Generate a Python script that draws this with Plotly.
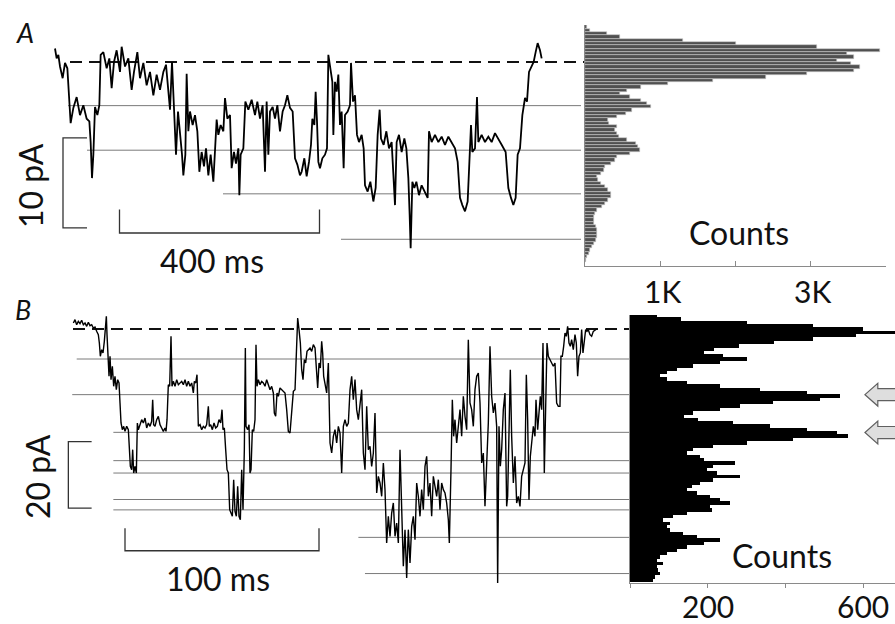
import plotly.graph_objects as go

# ---------------- Panel A : single-channel trace (time ms, current pA) ----------------
A_time_ms = [0, 3.3, 6.7, 10, 15.3, 20, 24.7, 28.7, 31.3, 36.7, 43.3, 50, 56.7, 63.3, 68.7, 71.3, 74, 76.7, 80, 84.7,
             88.7, 91.3, 96.7, 103.3, 108.7, 113.3, 118, 123.3, 130, 133.3, 140, 146.7, 153.3, 158, 164.7, 170, 176.7,
             183.3, 190, 196.7, 203.3, 210, 216.7, 222, 226.7, 230, 234, 238, 242, 246, 250, 254, 256.7, 260.7, 263.3,
             266.7, 270, 275.3, 280, 284.7, 288.7, 293.3, 298, 302, 306.7, 311.3, 316.7, 321.3, 323.3, 326.7, 331.3,
             336.7, 340, 344.7, 350, 353.3, 358, 362, 366.7, 368.7, 371.3, 376.7, 380.7, 386.7, 393.3, 400, 404.7, 410,
             415.3, 420, 423.3, 426.7, 430, 435.3, 440, 444.7, 450, 455.3, 460, 464.7, 470, 475.3, 480, 484.7, 490,
             493.3, 498.7, 503.3, 508, 512, 514.7, 518.7, 521.3, 524, 526.7, 530, 534.7, 540, 544, 546.7, 550, 554.7,
             556.7, 560, 563.3, 566.7, 570, 573.3, 577.3, 580, 585.3, 590, 592, 596, 600, 604, 608, 613.3, 617.3, 620,
             625.3, 630.7, 636.7, 641.3, 645.3, 649.3, 652, 657.3, 662.7, 668, 673.3, 677.3, 680, 683.3, 688, 693.3,
             698.7, 702.7, 706.7, 709.3, 711.3, 714.7, 718.7, 722.7, 728, 733.3, 740, 745.3, 748, 753.3, 760, 766.7,
             773.3, 780, 786.7, 793.3, 800, 805.3, 810, 814.7, 820, 825.3, 830, 832, 834.7, 840, 844, 846.7, 853.3, 860,
             866.7, 873.3, 880, 886.7, 893.3, 901.3, 906.7, 912, 916.7, 921.3, 925.3, 930, 934.7, 940, 944, 948, 953.3,
             957.3, 961.3, 965.3, 970, 973.3]
A_current_pA = [1.5, 0.4, 0.8, -0.5, -1.8, -0.1, -0.7, -4.2, -6.8, -5.1, -3.9, -5.9, -4.8, -6.3, -6.6, -8.9, -12.9, -10.3,
                -5.0, -5.9, -4.8, 0.8, 1.1, -0.7, 0.4, -2.9, 0.0, 1.3, -1.1, 1.7, -0.5, 0.4, -3.1, -1.1, 1.1, -1.8,
                -0.1, -2.6, -1.1, -3.7, -1.4, -3.1, -1.1, -0.3, -3.5, -5.3, 0.0, -4.4, -10.3, -5.5, -7.7, -10.3, -12.6,
                -10.3, -1.3, -7.7, -5.5, -7.0, -5.9, -7.7, -12.2, -10.0, -11.6, -9.6, -12.6, -10.3, -13.3, -9.2, -6.4,
                -8.1, -7.0, -7.7, -4.0, -6.3, -5.9, -11.8, -10.0, -11.3, -9.6, -14.8, -10.3, -9.6, -4.4, -5.3, -4.2,
                -5.9, -4.4, -6.3, -4.8, -12.2, -4.4, -10.3, -5.5, -5.0, -6.3, -4.8, -7.7, -5.5, -4.8, -3.7, -5.1, -5.5,
                -10.7, -11.4, -12.6, -12.2, -10.7, -12.7, -11.1, -9.2, -6.3, -7.0, -3.3, -6.6, -11.1, -11.8, -10.7,
                -10.3, -9.6, 0.8, -0.7, -2.2, -8.1, -2.2, -3.3, -1.4, -7.0, -5.5, -11.8, -5.9, -5.5, -4.8, -0.1, -4.4,
                -3.7, -8.1, -8.9, -8.1, -9.6, -13.7, -14.4, -13.3, -15.5, -14.0, -8.1, -5.3, -8.5, -9.2, -7.7, -9.6,
                -8.9, -14.0, -15.9, -8.9, -8.1, -10.0, -8.5, -9.6, -12.9, -17.0, -20.7, -13.3, -14.0, -13.3, -14.8,
                -13.7, -14.4, -15.1, -7.7, -8.9, -8.1, -8.9, -8.3, -9.2, -8.3, -8.9, -9.6, -11.1, -15.1, -15.9, -16.6,
                -15.5, -10.3, -7.0, -10.0, -9.6, -3.9, -8.9, -8.1, -8.9, -8.3, -8.9, -7.9, -8.5, -9.2, -10.0, -14.0,
                -15.1, -15.9, -15.1, -10.3, -9.6, -5.9, -4.0, -4.4, -1.1, -0.5, 0.0, 1.1, 2.1, 1.3, 0.4]

A_closed_pA = 0.0
A_levels_pA = [-4.85, -9.8, -14.65, -19.7]
A_level_start_ms = [26, 64, 336, 572]
A_line_end_ms = 1052
A_dash_start_ms = 30

# Panel A amplitude histogram (bin centre pA, counts)
A_hist_pA = [3.9, 3.53, 3.16, 2.79, 2.42, 2.05, 1.68, 1.31, 0.94, 0.57, 0.2, -0.17, -0.54, -0.91, -1.28, -1.65, -2.02,
             -2.39, -2.76, -3.13, -3.5, -3.87, -4.24, -4.61, -4.98, -5.35, -5.72, -6.09, -6.46, -6.83, -7.2, -7.57,
             -7.94, -8.31, -8.68, -9.05, -9.42, -9.79, -10.16, -10.53, -10.9, -11.27, -11.64, -12.01, -12.38, -12.75,
             -13.12, -13.49, -13.86, -14.23, -14.6, -14.97, -15.34, -15.71, -16.08, -16.45, -16.82, -17.19, -17.56,
             -17.93, -18.3, -18.67, -19.04, -19.41, -19.78, -20.15, -20.52, -20.89, -21.26, -21.63, -22.0]
A_hist_counts = [22, 70, 290, 470, 1300, 2000, 3080, 3920, 3480, 3570, 3350, 3540, 3650, 3570, 2950, 2400, 1700, 1100,
                 750, 560, 470, 600, 750, 830, 880, 620, 540, 420, 300, 320, 420, 400, 420, 450, 560, 680, 700, 730,
                 600, 430, 400, 340, 270, 250, 210, 160, 170, 210, 260, 300, 350, 340, 310, 270, 230, 160, 135, 115,
                 125, 115, 140, 160, 155, 165, 150, 115, 90, 70, 50, 30, 15]
A_hist_ticks = [0, 1000, 2000, 3000, 4000]

# ---------------- Panel B ----------------
B_time_ms = [0.2, 1.03, 1.89, 2.75, 3.61, 4.47, 5.33, 6.19, 7.05, 7.91, 8.77, 9.63, 10.48, 11.34, 12.2, 13.06, 13.58,
             14.09, 14.78, 15.47, 16.15, 16.5, 16.84, 17.19, 17.53, 17.87, 18.56, 19.08, 19.59, 20.28, 20.97, 21.65,
             22.34, 23.03, 23.72, 24.23, 24.75, 25.43, 26.12, 26.81, 27.67, 28.53, 29.04, 29.56, 30.24, 30.76, 31.28,
             31.96, 32.65, 33.17, 33.68, 34.54, 35.4, 36.26, 37.12, 37.98, 38.84, 39.69, 40.55, 41.07, 41.58, 42.27,
             43.13, 43.99, 44.85, 45.71, 46.57, 47.43, 47.94, 48.46, 49.14, 49.83, 50.52, 51.03, 51.72, 52.58, 53.44,
             54.3, 55.16, 56.02, 56.88, 57.74, 58.59, 59.45, 60.31, 61.17, 62.03, 62.55, 63.23, 63.92, 64.61, 65.47,
             66.33, 67.19, 68.04, 68.9, 69.76, 70.28, 70.97, 71.83, 72.68, 73.54, 74.4, 75.26, 76.12, 76.81, 77.32,
             78.01, 78.7, 79.39, 80.07, 80.76, 81.45, 82.13, 82.82, 83.51, 84.2, 84.88, 85.57, 86.26, 86.95, 87.63,
             88.32, 88.84, 89.18, 90.04, 90.73, 91.24, 91.76, 92.44, 93.13, 93.82, 94.33, 94.85, 95.54, 96.4, 97.25,
             98.11, 98.97, 99.83, 100.69, 101.55, 102.41, 103.27, 103.78, 104.47, 105.16, 105.85, 106.7, 107.56,
             108.42, 109.28, 110.14, 111.0, 111.86, 112.72, 113.58, 114.44, 115.12, 115.81, 116.5, 117.19, 117.87,
             118.56, 119.25, 119.93, 120.62, 121.31, 122.17, 123.03, 123.89, 124.75, 125.61, 126.12, 126.81, 127.5,
             128.18, 128.7, 129.21, 130.76, 131.62, 132.48, 133.34, 134.2, 135.05, 135.91, 136.77, 137.63, 138.49,
             139.35, 140.21, 141.07, 141.93, 142.79, 143.64, 144.5, 145.36, 146.22, 147.08, 147.94, 148.8, 149.66,
             150.52, 151.38, 152.23, 153.09, 153.95, 154.81, 155.67, 156.53, 157.39, 158.25, 159.11, 159.97, 160.82,
             161.68, 162.54, 163.4, 164.26, 165.12, 165.98, 166.84, 167.7, 168.56, 169.41, 170.27, 171.13, 171.99,
             172.85, 173.71, 174.57, 175.43, 176.29, 177.15, 178.0, 178.86, 179.72, 180.58, 181.44, 182.3, 183.16,
             184.02, 184.88, 185.74, 186.59, 187.45, 188.31, 189.17, 190.03, 190.89, 191.75, 192.61, 193.47, 193.98,
             194.84, 195.53, 196.21, 196.9, 197.76, 198.62, 199.48, 200.34, 201.2, 202.06, 202.92, 203.77, 204.63,
             205.49, 206.35, 207.21, 208.07, 208.93, 209.79, 210.65, 211.51, 212.36, 213.22, 214.08, 214.94, 215.8,
             216.66, 217.52, 218.38, 218.89, 219.58, 220.27, 220.95, 221.81, 222.67, 223.53, 224.05, 224.73, 225.42,
             226.11, 226.97, 227.83, 228.69, 229.54, 230.4, 231.26, 232.12, 232.98, 233.67, 234.36, 235.04, 235.73,
             236.42, 237.28, 238.13, 238.65, 239.51, 240.2, 240.88, 241.57, 242.26, 242.94, 243.63, 244.32, 245.01,
             245.87, 246.72, 247.58, 248.44, 249.3, 250.16, 251.02, 251.53, 252.22, 252.91, 253.6, 254.28, 254.97,
             255.66, 256.34, 257.03, 257.89, 258.75, 259.44, 260.12, 260.81, 261.5, 262.19, 262.87, 263.56, 264.25,
             264.93, 265.62, 266.48, 267.34, 268.2, 269.06, 269.92]
B_current_pA = [1.79, 2.78, 1.29, 2.29, 1.59, 2.59, 1.29, 1.79, 0.79, 1.99, 0.99, 1.29, 0.3, 0.6, -0.7, -1.69, -4.18,
                -8.16, -6.17, -7.16, -3.68, -1.19, 2.78, 3.78, -1.69, -6.17, -14.13, -8.16, -15.12, -11.14, -17.11,
                -14.13, -18.11, -15.12, -16.12, -22.09, -28.06, -30.05, -29.06, -30.55, -29.06, -30.05, -36.02, -41.0,
                -42.0, -36.02, -42.99, -41.0, -42.99, -28.06, -30.05, -28.56, -27.07, -28.06, -26.57, -29.55, -28.06,
                -29.06, -27.56, -21.1, -28.56, -29.06, -27.07, -26.07, -28.56, -29.55, -30.55, -29.55, -30.55, -27.07,
                -16.62, -17.11, -2.19, -17.11, -15.62, -17.11, -15.12, -16.62, -16.12, -15.62, -16.62, -15.12,
                -17.11, -15.62, -17.11, -16.12, -19.1, -15.62, -16.12, -13.63, -29.06, -28.56, -30.05, -29.06,
                -29.55, -28.56, -23.09, -29.06, -28.56, -30.05, -28.06, -29.55, -29.06, -27.07, -28.06, -24.08,
                -30.05, -29.55, -36.02, -42.0, -42.99, -53.93, -54.93, -55.92, -44.98, -54.43, -55.92, -46.97, -55.92,
                -56.92, -42.0, -53.93, -36.02, -5.67, -29.06, -30.05, -28.56, -42.99, -42.0, -30.05, -30.55, -27.07,
                -4.68, -17.11, -15.12, -16.62, -15.62, -16.12, -17.11, -15.12, -16.62, -18.11, -17.11, -19.1, -25.08,
                -26.07, -19.1, -20.1, -17.61, -18.11, -18.61, -19.1, -24.08, -30.55, -31.05, -24.08, -18.61, -18.11,
                -9.16, 3.28, -0.2, -4.18, -12.14, -15.12, -9.16, -10.15, -6.67, -6.17, -5.67, -6.67, -4.68, -5.67,
                -15.12, -17.61, -10.15, -11.64, -3.68, -7.16, -14.13, -19.1, -10.15, -34.03, -37.02, -32.04, -30.05,
                -34.03, -29.06, -31.05, -42.99, -29.06, -27.07, -29.06, -28.06, -18.11, -14.13, -21.1, -15.12, -24.08,
                -27.07, -23.09, -18.11, -37.02, -42.0, -23.09, -36.02, -35.03, -41.0, -37.02, -25.08, -48.96, -43.98,
                -45.97, -49.95, -40.0, -47.96, -63.88, -55.92, -61.89, -54.93, -51.94, -61.89, -57.91, -63.88, -36.02,
                -53.93, -70.85, -59.9, -74.33, -59.9, -69.85, -58.9, -55.92, -62.89, -45.97, -49.95, -55.92, -47.96,
                -53.93, -40.99, -38.01, -49.95, -45.97, -55.92, -43.98, -46.97, -49.95, -44.98, -53.93, -45.97,
                -47.96, -48.96, -51.94, -56.92, -63.88, -42.0, -21.1, -32.04, -27.07, -34.03, -28.06, -24.08, -32.04,
                -20.1, -26.07, -30.05, -3.19, -22.09, -24.08, -29.06, -18.11, -14.13, -13.14, -22.09, -40.0, -37.02,
                -52.94, -38.01, -28.06, -5.18, -20.1, -25.08, -22.09, -29.06, -75.82, -29.06, -40.99, -36.02, -24.08,
                -19.1, -52.94, -49.95, -32.04, -12.14, -32.04, -45.97, -38.01, -51.94, -49.95, -52.94, -43.98, -42.0,
                -40.0, -13.63, -27.07, -50.95, -38.01, -34.03, -29.06, -32.04, -21.1, -30.05, -25.08, -20.1, -24.08,
                -4.18, -42.99, -24.08, -4.18, -8.16, -9.16, -10.15, -11.14, -10.15, -22.09, -23.09, -23.09, -8.16,
                -8.16, -5.18, -1.19, -2.19, 0.79, -4.18, -5.18, -3.19, -6.17, -1.69, -4.18, -14.13, -8.16, -7.16, -0.2,
                -7.16, -4.18, -0.2, -0.7, -0.2, -1.69, -2.19, -0.7, -0.2, 0.0]

B_closed_pA = 0.0
B_levels_pA = [-8.96, -19.6, -30.85, -39.3, -43.0, -50.9, -54.0, -62.2, -73.0]
B_level_start_ms = [1.9, -0.4, 20.8, 20.8, 20.8, 20.8, 20.8, 147.1, 150.5]
B_line_end_ms = 287.1

B_hist_pA = [4, 3, 2, 1, 0, -1, -2, -3, -4, -5, -6, -7, -8, -9, -10, -11, -12, -13, -14, -15, -16, -17, -18, -19, -20,
             -21, -22, -23, -24, -25, -26, -27, -28, -29, -30, -31, -32, -33, -34, -35, -36, -37, -38, -39, -40, -41,
             -42, -43, -44, -45, -46, -47, -48, -49, -50, -51, -52, -53, -54, -55, -56, -57, -58, -59, -60, -61, -62,
             -63, -64, -65, -66, -67, -68, -69, -70, -71, -72, -73, -74, -75]
B_hist_counts = [70, 130, 300, 470, 600, 690, 580, 470, 370, 280, 215, 190, 240, 300, 231, 163, 120, 95, 77, 94, 146,
                 231, 334, 454, 540, 489, 368, 283, 231, 163, 140, 175, 266, 360, 454, 531, 560, 420, 300, 214, 163,
                 146, 180, 189, 270, 214, 197, 223, 283, 214, 180, 159, 146, 171, 206, 231, 257, 206, 210, 146, 111,
                 86, 103, 94, 103, 137, 171, 231, 189, 146, 120, 94, 77, 69, 86, 69, 73, 77, 64, 60]
B_hist_ticks = [0, 200, 400, 600]
B_arrow_levels_pA = [-19.6, -30.9]

W, H = 895, 624
FONT = "Lato, 'Open Sans', sans-serif"
TXT = "#111111"
LEVEL_COL = "#7a7a7a"
BAR_COL = "#333333"


def px(x):
    return x / W


def py(y):
    return 1 - y / H


fig = go.Figure()

# ---------- panel A trace ----------
for lvl, st in zip(A_levels_pA, A_level_start_ms):
    fig.add_trace(go.Scatter(x=[st, A_line_end_ms], y=[lvl, lvl], mode="lines",
                             line=dict(color=LEVEL_COL, width=1), xaxis="x", yaxis="y", hoverinfo="skip"))
fig.add_trace(go.Scatter(x=[A_dash_start_ms, 1060], y=[A_closed_pA, A_closed_pA], mode="lines",
                         line=dict(color="#111", width=2, dash="12px,7px"), xaxis="x", yaxis="y"))
fig.add_trace(go.Scatter(x=A_time_ms, y=A_current_pA, mode="lines", line=dict(color="#000", width=1.8),
                         xaxis="x", yaxis="y"))
# scale bars A: 10 pA and 400 ms
fig.add_trace(go.Scatter(x=[64, 16, 16, 64], y=[-8.44, -8.44, -18.44, -18.44], mode="lines",
                         line=dict(color=BAR_COL, width=1.3), xaxis="x", yaxis="y"))
fig.add_trace(go.Scatter(x=[129, 129, 529, 529], y=[-16.4, -19.0, -19.0, -16.4], mode="lines",
                         line=dict(color=BAR_COL, width=1.3), xaxis="x", yaxis="y"))

# ---------- panel A histogram ----------
fig.add_trace(go.Bar(y=A_hist_pA, x=A_hist_counts, orientation="h", width=0.37,
                     marker=dict(color="#505050", line=dict(color="#c8c8c8", width=0.6)),
                     xaxis="x2", yaxis="y2"))

# ---------- panel B trace ----------
for lvl, st in zip(B_levels_pA, B_level_start_ms):
    fig.add_trace(go.Scatter(x=[st, B_line_end_ms], y=[lvl, lvl], mode="lines",
                             line=dict(color=LEVEL_COL, width=1), xaxis="x3", yaxis="y3"))
fig.add_trace(go.Scatter(x=[0, B_line_end_ms], y=[B_closed_pA, B_closed_pA], mode="lines",
                         line=dict(color="#111", width=2, dash="12px,7px"), xaxis="x3", yaxis="y3"))
fig.add_trace(go.Scatter(x=B_time_ms, y=B_current_pA, mode="lines", line=dict(color="#000", width=1.4),
                         xaxis="x3", yaxis="y3"))
# scale bars B: 20 pA and 100 ms
fig.add_trace(go.Scatter(x=[9.6, -2.4, -2.4, 9.6], y=[-33.6, -33.6, -53.5, -53.5], mode="lines",
                         line=dict(color=BAR_COL, width=1.3), xaxis="x3", yaxis="y3"))
fig.add_trace(go.Scatter(x=[26.8, 26.8, 126.8, 126.8], y=[-59.5, -66.2, -66.2, -59.5], mode="lines",
                         line=dict(color=BAR_COL, width=1.3), xaxis="x3", yaxis="y3"))

# ---------- panel B histogram ----------
fig.add_trace(go.Bar(y=B_hist_pA, x=B_hist_counts, orientation="h", width=1.05,
                     marker=dict(color="#000000", line=dict(width=0)),
                     xaxis="x4", yaxis="y4"))

# arrows marking levels in B histogram
shapes = []
for lvl in B_arrow_levels_pA:
    hh, sh = 3.4, 1.8
    path = (f"M 604,{lvl} L 637,{lvl + hh} L 637,{lvl + sh} L 700,{lvl + sh} "
            f"L 700,{lvl - sh} L 637,{lvl - sh} L 637,{lvl - hh} Z")
    shapes.append(dict(type="path", path=path, xref="x4", yref="y4",
                       fillcolor="#dedede", line=dict(color="#606060", width=1.2)))

hidden = dict(visible=False, showgrid=False, zeroline=False)
fig.update_layout(
    width=W, height=H, margin=dict(l=0, r=0, t=0, b=0),
    paper_bgcolor="white", plot_bgcolor="rgba(0,0,0,0)",
    showlegend=False, bargap=0,
    xaxis=dict(domain=[0, px(585)], range=[-110, 1060], **hidden),
    yaxis=dict(domain=[py(285), 1], range=[-24.78, 6.889], **hidden),
    xaxis2=dict(domain=[px(585), px(886)], range=[0, 4000], anchor="y2", showgrid=False, zeroline=False,
                showline=True, linecolor="#8a8a8a", linewidth=1, ticks="inside", ticklen=5, tickcolor="#8a8a8a",
                tickvals=A_hist_ticks, showticklabels=False),
    yaxis2=dict(domain=[py(265.7), py(25)], range=[-22.633, 4.111], anchor="x2", showgrid=False, zeroline=False,
                showline=True, linecolor="#8a8a8a", linewidth=1, ticks="", showticklabels=False),
    xaxis3=dict(domain=[0, px(630)], range=[-37.63, 287.11], anchor="y3", **hidden),
    yaxis3=dict(domain=[0, py(285)], range=[-88.06, 13.13], anchor="x3", **hidden),
    xaxis4=dict(domain=[px(630), 1], range=[0, 681.2], anchor="y4", showgrid=False, zeroline=False,
                showline=True, linecolor="#8a8a8a", linewidth=1, ticks="outside", ticklen=4, tickcolor="#8a8a8a",
                tickvals=B_hist_ticks, showticklabels=False),
    yaxis4=dict(domain=[py(582.7), py(315)], range=[-75.73, 4.18], anchor="x4", showgrid=False, zeroline=False,
                showline=True, linecolor="#8a8a8a", linewidth=1, ticks="", showticklabels=False),
    shapes=shapes,
)


def label(text, x, y, size=32, angle=0, italic=False):
    fig.add_annotation(text=text, x=px(x), y=py(y), xref="paper", yref="paper", showarrow=False,
                       textangle=angle, xanchor="center", yanchor="middle",
                       font=dict(family=FONT, size=size, color=TXT, style="italic" if italic else "normal"))


label("A", 25, 32, size=27, italic=True)
label("B", 23, 309, size=27, italic=True)
label("10 pA", 30, 186, angle=-90)
label("400 ms", 212, 260)
label("Counts", 739, 232)
label("1K", 662, 291, size=30)
label("3K", 812, 291, size=30)
label("20 pA", 38, 477, angle=-90)
label("100 ms", 218, 578)
label("Counts", 782, 555)
label("200", 708, 606, size=30)
label("600", 863, 606, size=30)

fig.write_html("out.html", config={"displayModeBar": False},
               post_script="document.body.style.margin='0';document.body.style.padding='0';")
